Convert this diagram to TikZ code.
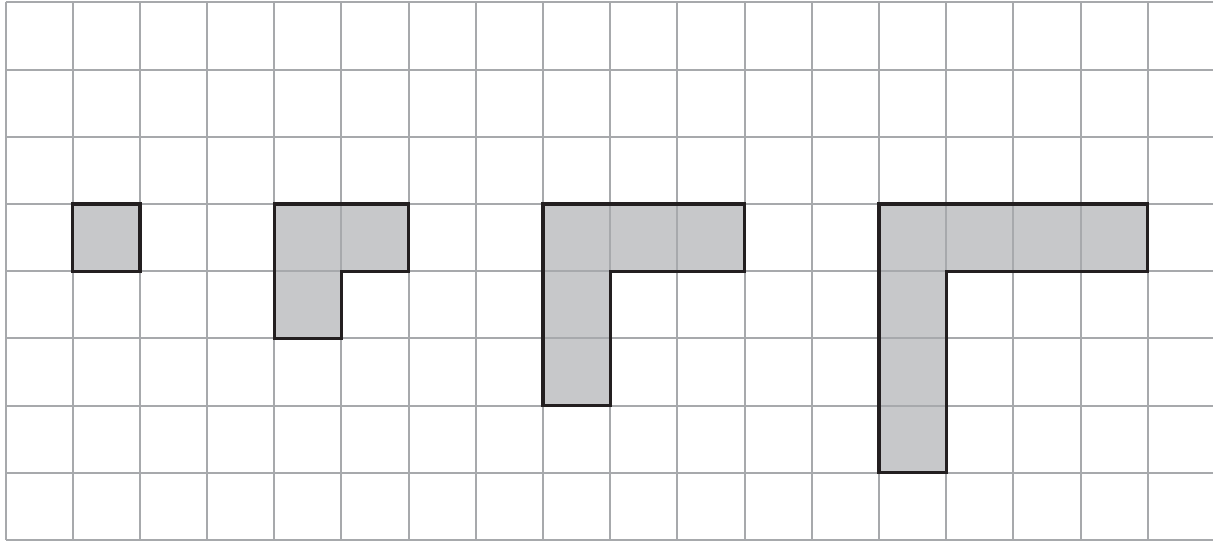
\documentclass[tikz,border=0pt]{standalone}
\usepackage{tikz}
\definecolor{gridgray}{HTML}{A7A9AC}
\definecolor{tilefill}{HTML}{C7C8CA}
\definecolor{ink}{HTML}{231F20}
\tikzset{
  gridline/.style={draw=gridgray,line width=0.85pt},
  tile/.style={fill=tilefill},
  outline/.style={draw=ink,line width=1.4pt,line join=miter}
}
\begin{document}
\begin{tikzpicture}[x=1cm,y=1cm]
        \useasboundingbox (-0.082,-0.03) rectangle (17.97,8.037);
        % shaded figures
        \fill[tile] (1,4) rectangle (2,5);
        \fill[tile] (4,5) -- (6,5) -- (6,4) -- (5,4) -- (5,3) -- (4,3) -- cycle;
        \fill[tile] (8,5) -- (11,5) -- (11,4) -- (9,4) -- (9,2) -- (8,2) -- cycle;
        \fill[tile] (13,5) -- (17,5) -- (17,4) -- (14,4) -- (14,1) -- (13,1) -- cycle;

        % grid
        \foreach \x in {0,...,17} {
          \draw[gridline] (\x,0) -- (\x,8);
        }
        \foreach \y in {0,...,8} {
          \draw[gridline] (0,\y) -- (17.97,\y);
        }

        % outlines
        \draw[outline] (1,4) rectangle (2,5);
        \draw[outline] (4,5) -- (6,5) -- (6,4) -- (5,4) -- (5,3) -- (4,3) -- cycle;
        \draw[outline] (8,5) -- (11,5) -- (11,4) -- (9,4) -- (9,2) -- (8,2) -- cycle;
        \draw[outline] (13,5) -- (17,5) -- (17,4) -- (14,4) -- (14,1) -- (13,1) -- cycle;
      \end{tikzpicture}
\end{document}
